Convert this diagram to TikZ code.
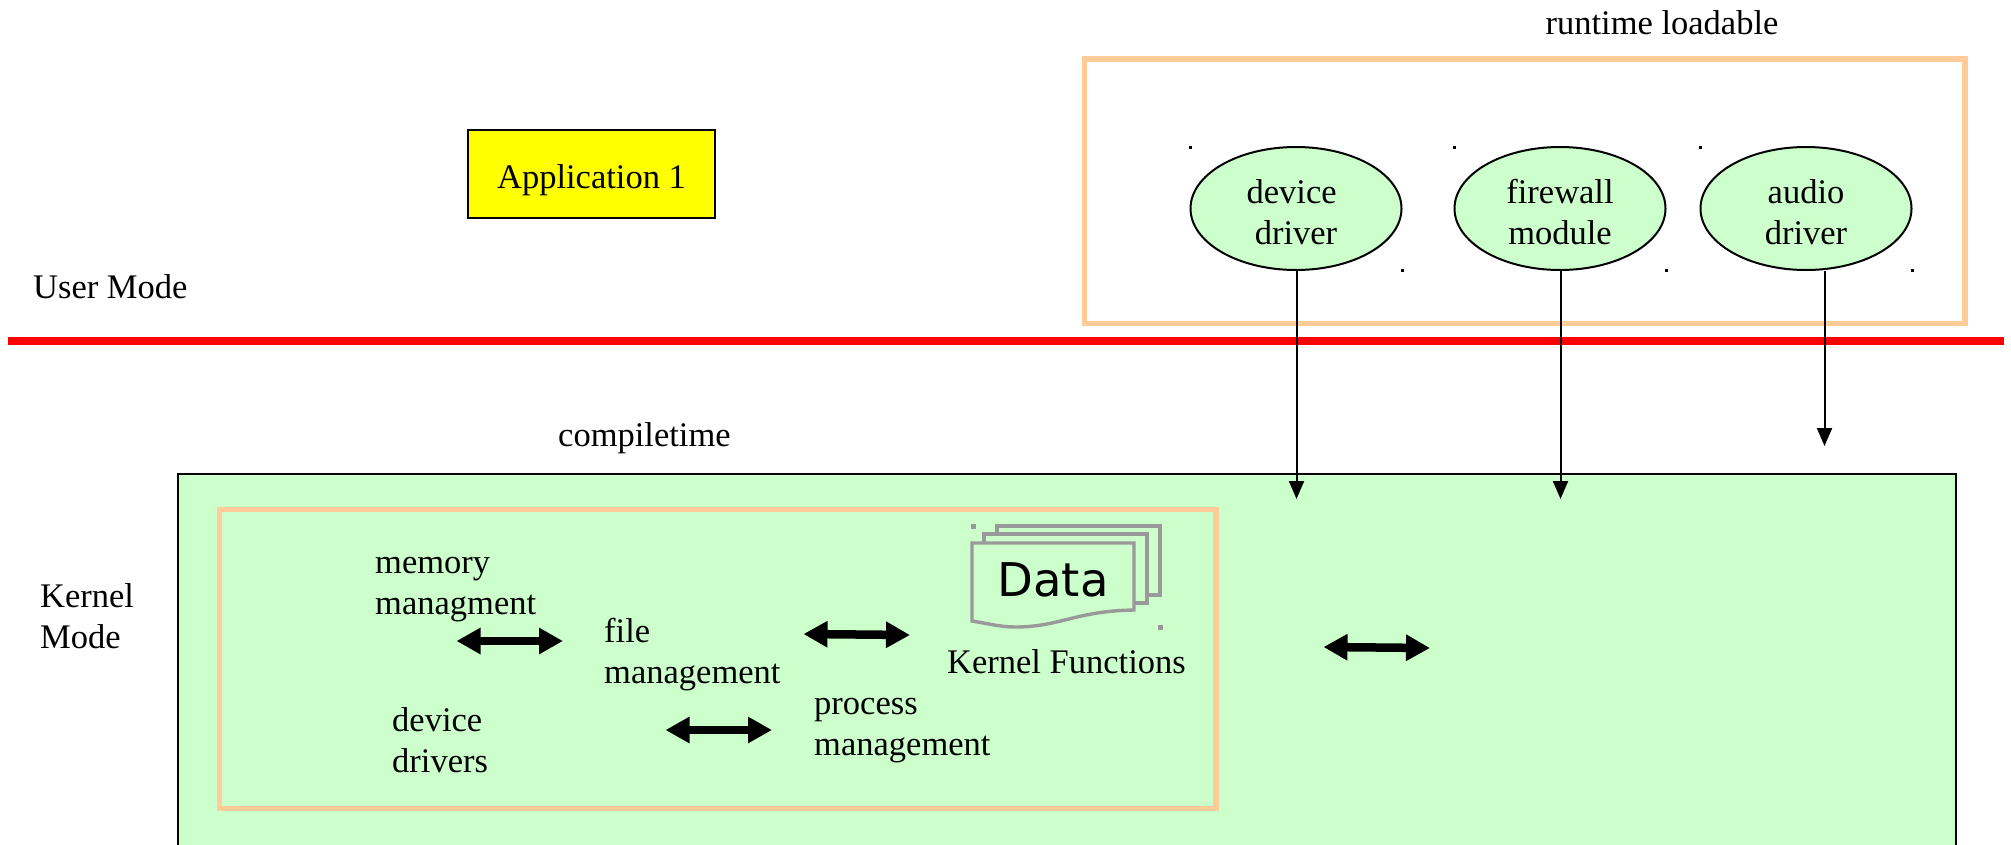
\documentclass[tikz,border=0pt]{standalone}
\usepackage{fontspec}
\setmainfont{Liberation Serif}
\newfontfamily\datafont{DejaVu Sans}
\usetikzlibrary{shapes.geometric,arrows.meta}
\definecolor{kgreen}{HTML}{CCFFCC}
\definecolor{korange}{HTML}{FFCC99}
\definecolor{kgray}{HTML}{999999}
\definecolor{kyellow}{HTML}{FFFF00}
\definecolor{kred}{HTML}{FF0000}
\tikzset{
  x=1pt,y=-1pt,
  lbl/.style={anchor=west,align=left,inner sep=0pt,font=\fontsize{34.5}{41}\selectfont},
  lblc/.style={lbl,anchor=center,align=center},
  orangebox/.style={draw=korange,line width=5.2pt},
  driver/.style={ellipse,draw=black,line width=2pt,fill=kgreen,minimum width=211pt,minimum height=123pt,inner sep=0pt,align=center,text height=72pt,text depth=0pt,font=\fontsize{34.5}{41}\selectfont},
  downarrow/.style={draw=black,line width=2pt,-{Triangle[width=15pt,length=18pt]}},
  bothways/.style={draw=black,line width=8.5pt,{Triangle[width=25pt,length=24pt]}-{Triangle[width=25pt,length=24pt]}},
  docsheet/.style={draw=kgray,line width=3.4pt,fill=kgreen,line join=miter},
  handle/.style={fill=kgray},
  blackdot/.style={fill=black}
}
\begin{document}
\begin{tikzpicture}
\clip (0,0) rectangle (2011,844);
\fill[white] (0,0) rectangle (2011,844);
% top-right container and divider
\draw[orangebox] (1084.5,59) rectangle (1965,323.5);
\draw[kred,line width=8pt] (8,341) -- (2004,341);
% kernel box
\draw[black,line width=2pt,fill=kgreen] (177.5,473.5) rectangle (1956,880);
\draw[orangebox] (219.5,509.5) rectangle (1216,808.5);
% application
\node[draw=black,line width=2pt,fill=kyellow,minimum width=247pt,minimum height=88pt,inner sep=0pt,text height=29pt,text depth=0pt,font=\fontsize{34.5}{41}\selectfont] (app) at (591.5,174) {Application 1};
% drivers
\node[driver] (dd) at (1296,208.5) {\hbox{device\kern8.7pt}\\driver};
\node[driver] (fw) at (1560,208.5) {firewall\\module};
\node[driver] (ad) at (1806,208.5) {audio\\driver};
\foreach \a/\b in {1190.5/1402,1454.5/1666,1700.5/1912}{
  \fill[blackdot] (\a-1.5,145.5) rectangle (\a+1.5,148.5);
  \fill[blackdot] (\b-1.5,269) rectangle (\b+1.5,272);
}
% labels
\node[lblc] (rt) at (1662,23) {runtime loadable};
\node[lbl] (um) at (33,287) {User Mode};
\node[lbl] (ct) at (558,438.5) {compiletime};
\node[lbl] (km) at (40,616) {Kernel\\Mode};
\node[lbl] (mm) at (375,589.5) {memory\\managment};
\node[lbl] (fm) at (604,654.5) {file\\management};
\node[lbl] (dv) at (392,740) {device\\drivers};
\node[lbl] (pm) at (814,730.5) {process\\management};
\node[lbl] (kf) at (947,662) {Kernel Functions};
% stacked data documents
\draw[docsheet] (997,526) -- (1160,526) -- (1160,595) -- (1130,595) -- (997,595) -- cycle;
\draw[docsheet] (984,534) -- (1147,534) -- (1147,603) -- (1120,603) -- (984,603) -- cycle;
\draw[docsheet] (972,543) -- (1134,543) -- (1134,610) .. controls (1075,611) and (1060,627) .. (1015,627) .. controls (1000,627) and (985,623) .. (972,621) -- cycle;
\node[inner sep=0pt,font=\datafont\fontsize{46.5}{50}\selectfont] (data) at (1053,580) {Data};
\fill[handle] (970.5,524) rectangle (975.5,529);
\fill[handle] (1157.5,625) rectangle (1162.5,630);
% double arrows
\coordinate (a1l) at (456.5,641); \coordinate (a1r) at (563,641);
\coordinate (a2l) at (803.5,634); \coordinate (a2r) at (910,635);
\coordinate (a3l) at (665.5,730); \coordinate (a3r) at (772,730);
\coordinate (a4l) at (1323.5,647); \coordinate (a4r) at (1430,648);
\draw[bothways] (a1l) -- (a1r);
\draw[bothways] (a2l) -- (a2r);
\draw[bothways] (a3l) -- (a3r);
\draw[bothways] (a4l) -- (a4r);
% driver arrows
\coordinate (t1) at (1296.5,499);
\coordinate (t2) at (1560.5,499);
\coordinate (t3) at (1824.5,446);
\draw[downarrow] (dd.south -| t1) -- (t1);
\draw[downarrow] (fw.south -| t2) -- (t2);
\draw[downarrow] (ad.south -| t3) -- (t3);
\end{tikzpicture}
\end{document}
